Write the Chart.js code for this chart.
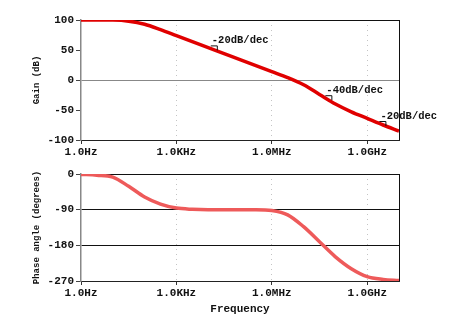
<!DOCTYPE html>
<html>
<head>
<meta charset="utf-8">
<script src="https://cdn.jsdelivr.net/npm/chart.js@4.4.0/dist/chart.umd.min.js"></script>
<style>
  html, body { margin: 0; padding: 0; background: #fff; }
  #wrap { position: relative; width: 450px; height: 333px; }
  #gain { position: absolute; left: 0; top: 0; }
  #phase { position: absolute; left: 0; top: 160px; }
</style>
</head>
<body>
<div id="wrap">
  <canvas id="gain" width="450" height="165"></canvas>
  <canvas id="phase" width="450" height="173"></canvas>
</div>
<script>
// frequency samples (Hz), half a decade apart
const frequency = [1, 3.16, 10, 31.6, 100, 316, 1e3, 3.16e3, 1e4, 3.16e4, 1e5, 3.16e5,
  1e6, 3.16e6, 1e7, 3.16e7, 1e8, 3.16e8, 1e9, 3.16e9, 1e10];
const gainDb = [100, 100, 99.8, 98, 93, 84, 74, 64, 54, 44, 34, 24,
  14, 4, -8, -24, -40, -53, -64, -75, -85];
const phaseDeg = [-1, -3, -8, -31, -58, -76, -86, -89, -90, -90, -90, -90,
  -92, -103, -133, -171, -209, -239, -259, -266, -269];

const freqTicks = [1, 1e3, 1e6, 1e9];
const freqTickLabels = ['1.0Hz', '1.0KHz', '1.0MHz', '1.0GHz'];
const gainTicks = [-100, -50, 0, 50, 100];
const phaseTicks = [-270, -180, -90, 0];

const slopeLabels = ['-20dB/dec', '-40dB/dec', '-20dB/dec'];
const slopeFreq = [1.3e4, 5.2e7, 2.6e9];
const slopeGain = [66, -17, -60];

const mono = '"Liberation Mono", "DejaVu Sans Mono", monospace';
const tickFont = { family: mono, size: 11, weight: 'bold' };

const rightBorder = {
  id: 'rightBorder',
  afterDraw(chart) {
    const { ctx, chartArea } = chart;
    ctx.save();
    ctx.strokeStyle = '#111';
    ctx.lineWidth = 1;
    ctx.beginPath();
    ctx.moveTo(chartArea.right + 0.5, chartArea.top);
    ctx.lineTo(chartArea.right + 0.5, chartArea.bottom);
    ctx.stroke();
    ctx.restore();
  }
};

const slopeNotes = {
  id: 'slopeNotes',
  afterDatasetsDraw(chart) {
    const { ctx, scales: { x, y } } = chart;
    ctx.save();
    ctx.font = 'bold 10.5px ' + mono;
    ctx.fillStyle = '#111';
    ctx.strokeStyle = '#111';
    ctx.lineWidth = 1;
    ctx.textBaseline = 'middle';
    slopeLabels.forEach((t, i) => {
      const px = x.getPixelForValue(slopeFreq[i]);
      const py = y.getPixelForValue(slopeGain[i]);
      ctx.fillText(t, px, py);
      ctx.beginPath();
      ctx.moveTo(px - 1, py + 5.5);
      ctx.lineTo(px + 5.5, py + 5.5);
      ctx.lineTo(px + 5.5, py + 10);
      ctx.stroke();
    });
    ctx.restore();
  }
};

function freqAxis(xHeight, withTitle) {
  return {
    type: 'logarithmic',
    min: 1,
    max: 1e10,
    afterBuildTicks: s => { s.ticks = freqTicks.map(v => ({ value: v })); },
    afterFit: s => { s.height = xHeight; },
    ticks: {
      autoSkip: false,
      maxRotation: 0,
      padding: 2,
      color: '#111',
      font: tickFont,
      callback: v => freqTickLabels[freqTicks.indexOf(v)]
    },
    // border.dash dashes the grid lines in v4, the border itself stays solid
    border: { color: '#222', width: 1, dash: [1, 4] },
    grid: {
      color: c => (c.tick && c.tick.value === 1) ? 'rgba(0,0,0,0)' : '#c4c4c4',
      tickLength: 4,
      tickColor: '#333'
    },
    title: {
      display: withTitle,
      text: 'Frequency',
      color: '#111',
      font: { family: mono, size: 11, weight: 'bold' },
      padding: { top: 0, bottom: 17 }
    }
  };
}

function valueAxis(min, max, ticks, title, gridColor) {
  return {
    min: min,
    max: max,
    afterBuildTicks: s => { s.ticks = ticks.map(v => ({ value: v })); },
    afterFit: s => { s.width = 81; },
    ticks: { color: '#111', font: tickFont, padding: 2 },
    border: { color: '#888', width: 1.5 },
    grid: { color: gridColor, lineWidth: 1, tickLength: 5, tickColor: '#444' },
    title: {
      display: true,
      text: title,
      color: '#111',
      font: { family: mono, size: 9, weight: 'bold' },
      padding: { top: 31, bottom: 0 }
    }
  };
}

const baseOptions = {
  responsive: false,
  animation: false,
  plugins: { legend: { display: false }, tooltip: { enabled: false } }
};

new Chart(document.getElementById('gain').getContext('2d'), {
  type: 'line',
  data: {
    datasets: [{
      data: frequency.map((f, i) => ({ x: f, y: gainDb[i] })),
      borderColor: '#e00000',
      borderWidth: 3.5,
      pointRadius: 0,
      cubicInterpolationMode: 'monotone'
    }]
  },
  options: {
    ...baseOptions,
    layout: { padding: { top: 20, right: 51, bottom: 0, left: 0 } },
    scales: {
      x: freqAxis(25, false),
      y: valueAxis(-100, 100, gainTicks, 'Gain (dB)', c => {
        const v = c.tick ? c.tick.value : null;
        if (v === 0) return '#888';
        if (v === 100) return '#111';
        return 'rgba(0,0,0,0)';
      })
    }
  },
  plugins: [rightBorder, slopeNotes]
});

new Chart(document.getElementById('phase').getContext('2d'), {
  type: 'line',
  data: {
    datasets: [{
      data: frequency.map((f, i) => ({ x: f, y: phaseDeg[i] })),
      borderColor: '#ee5a5a',
      borderWidth: 3.5,
      pointRadius: 0,
      cubicInterpolationMode: 'monotone'
    }]
  },
  options: {
    ...baseOptions,
    layout: { padding: { top: 14, right: 51, bottom: 0, left: 0 } },
    scales: {
      x: freqAxis(52, true),
      y: valueAxis(-270, 0, phaseTicks, 'Phase angle (degrees)', c => {
        const v = c.tick ? c.tick.value : null;
        return v === -270 ? 'rgba(0,0,0,0)' : '#111';
      })
    }
  },
  plugins: [rightBorder]
});
</script>
</body>
</html>
